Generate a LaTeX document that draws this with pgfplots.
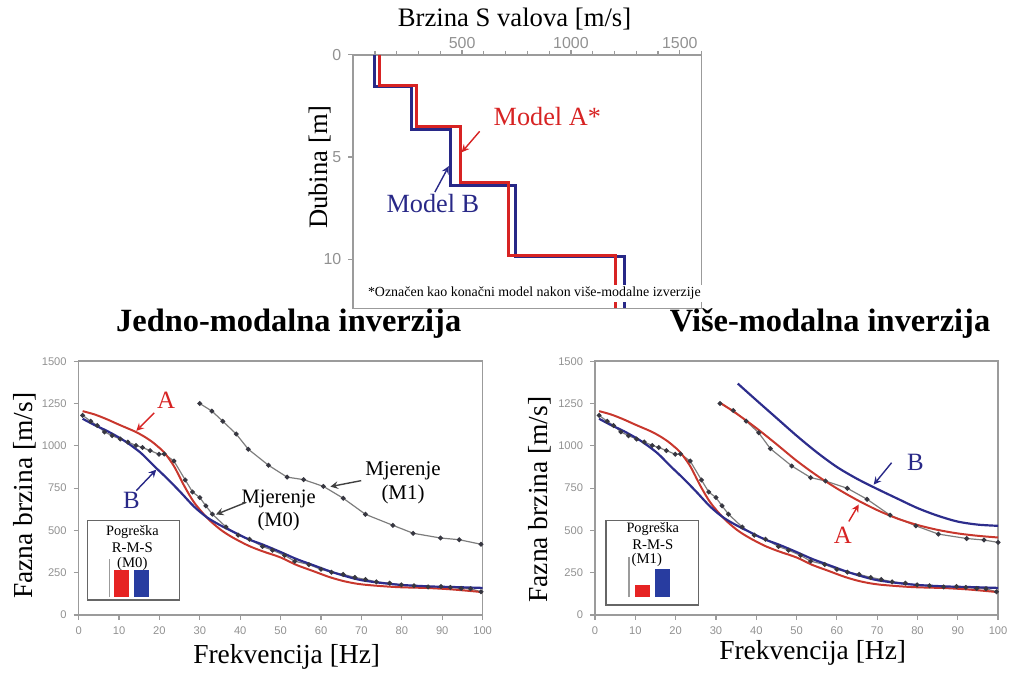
\documentclass[border=0pt]{standalone}
\usepackage{fontspec}
\setmainfont{Liberation Serif}
\newfontfamily\sansf{Liberation Sans}
\usepackage{pgfplots}
\usepackage{pgfplotstable}
\pgfplotsset{compat=1.18}

\definecolor{cred}{RGB}{200,55,45}
\definecolor{cblue}{RGB}{45,45,140}
\definecolor{tred}{RGB}{215,35,35}
\definecolor{tblue}{RGB}{40,40,135}
\definecolor{barred}{RGB}{230,35,35}
\definecolor{barblue}{RGB}{40,60,160}
\definecolor{axgrey}{RGB}{155,155,155}
\definecolor{lblgrey}{RGB}{145,145,145}
\definecolor{measline}{RGB}{125,125,125}
\definecolor{markc}{RGB}{55,55,65}

% measured dispersion, fundamental mode (M0)
\pgfplotstableread{
f v
1.0 1180
3.0 1145
4.6 1120
6.4 1082
8.3 1060
10.3 1040
12.2 1022
14.2 1002
15.8 990
17.7 972
19.9 950
21.2 952
23.6 910
26.4 798
28.2 727
30.0 694
31.5 645
33.1 596
36.5 520
39.5 472
42.3 448
45.5 405
48.0 383
51.0 352
53.5 318
57.0 298
60.0 270
62.6 253
65.5 240
68.4 222
71.0 210
73.7 196
77.0 188
79.9 178
83.0 173
86.5 166
89.7 168
92.0 163
94.7 157
97.0 155
99.6 137
}\mzero

% model A, M0
\pgfplotstableread{
f v
1 1205
4 1185
7 1157
10 1125
13.8 1086
16 1058
18 1027
19.5 998
21.2 960
23.6 880
26.1 765
28.6 665
31.9 572
35.1 505
38 460
42 410
45.6 376
50 340
53.9 296
58 260
62.1 224
66 198
70.4 180
78.6 165
86.8 159
93 150
100 135
}\afit

% model B, M0
\pgfplotstableread{
f v
1 1160
4 1122
7.2 1086
11.3 1030
15.4 958
18.7 880
22 805
25.3 724
28.6 640
31.9 575
35.1 530
38 495
42 448
45.6 416
50 372
53.9 331
58 295
62.1 259
66 230
70.4 204
78.6 180
86.8 169
93 165
100 160
}\bfit

% measured, first higher mode (M1), as read in each panel
\pgfplotstableread{
f v
30.0 1250
33.0 1205
35.7 1145
39.0 1070
42.0 980
47.0 885
51.6 815
55.7 800
60.6 760
65.5 690
71.0 595
77.8 530
82.8 483
89.6 455
94.2 445
99.6 418
}\monel

\pgfplotstableread{
f v
31.0 1250
34.3 1209
37.5 1146
40.6 1077
43.5 983
48.8 881
53.5 812
57.2 792
62.6 749
67.5 684
73.2 590
79.6 527
85.2 478
92.2 452
96.5 443
100 429
}\moner

% model A / B, M1
\pgfplotstableread{
f v
31 1255
35 1192
40 1105
45 1010
50 912
55 825
60 748
65 680
70 620
75 570
80 532
85 503
90 482
95 468
100 458
}\aone

\pgfplotstableread{
f v
35.4 1368
40 1270
45 1165
50 1060
55 962
60 875
65 805
70 745
75 688
80 632
85 587
90 552
95 534
100 527
}\bone

% Vs profiles
\pgfplotstableread{
x y
122 0
122 1.5
289 1.5
289 3.53
491 3.53
491 6.26
712 6.26
712 9.8
1204 9.8
1204 12.4
}\profa

\pgfplotstableread{
x y
96 0
96 1.57
267 1.57
267 3.64
447 3.64
447 6.39
747 6.39
747 9.88
1247 9.88
1247 12.4
}\profb

\begin{document}
\begin{tikzpicture}
\begin{scope}[x=0.5pt,y=-0.5pt]
  \path[use as bounding box] (0,0) rectangle (1014,677);
\end{scope}

\pgfplotsset{
  greyaxis/.style={
    scale only axis,
    tick align=outside,
    axis line style={draw=axgrey, line width=0.8pt},
    tick style={draw=axgrey, line width=0.6pt},
    major tick length=2.5pt,
    /pgf/number format/assume math mode=true,
    /pgf/number format/1000 sep={},
  },
  panel/.style={
    greyaxis,
    width=203pt, height=127.5pt,
    xmin=0, xmax=100, ymin=0, ymax=1500,
    xtick={0,10,...,100}, ytick={0,250,...,1500},
    xtick pos=left, ytick pos=left,
    tick label style={font=\sansf\fontsize{5.6}{6}\selectfont, text=lblgrey},
    label style={font=\fontsize{13.8}{16}\selectfont},
    title style={font=\bfseries\fontsize{16.3}{19}\selectfont, anchor=center},
    xlabel={Frekvencija [Hz]}, ylabel={Fazna brzina [m/s]},
  },
  meas/.style={color=measline, line width=0.6pt, mark=*, mark size=0.9pt,
    mark options={draw=markc, fill=markc}},
  fita/.style={color=cred, line width=1pt, smooth, no marks},
  fitb/.style={color=cblue, line width=1.1pt, smooth, no marks},
  inset/.style={scale only axis, width=21pt, xmin=0, xmax=42, ymin=0, ymax=1,
    axis x line=none, axis y line*=left, ytick=\empty,
    axis line style={draw=axgrey, line width=0.6pt}},
}

% ---- top: shear-wave velocity profiles
\begin{axis}[
  greyaxis,
  at={(177.5pt,-155pt)}, anchor=south west,
  width=175pt, height=127.5pt,
  xmin=0, xmax=1600, ymin=0, ymax=12.4, y dir=reverse,
  xtick={500,1000,1500}, minor xtick={100,200,...,1600},
  ytick={0,5,10},
  xtick pos=right, xticklabel pos=right, ytick pos=left,
  minor tick length=2pt,
  tick label style={font=\sansf\fontsize{8}{9}\selectfont, text=lblgrey},
  xticklabel style={yshift=-3pt},
  label style={font=\fontsize{13.4}{16}\selectfont},
  xlabel={Brzina S valova [m/s]}, ylabel={Dubina [m]},
  xlabel style={at={(axis description cs:0.463,1.14)}, anchor=center},
  ylabel style={at={(axis description cs:-0.094,0.557)}, anchor=center},
]
\addplot[color=tblue, line width=1.5pt] table[x=x,y=y] {\profb};
\addplot[color=tred, line width=1.5pt] table[x=x,y=y] {\profa};
\end{axis}

% ---- bottom left: single-mode inversion
\begin{axis}[
  panel,
  at={(39.5pt,-309pt)}, anchor=south west,
  title={Jedno-modalna inverzija},
  title style={at={(axis description cs:0.52,1.10)}},
  xlabel style={at={(axis description cs:0.515,-0.165)}, anchor=center},
  ylabel style={at={(axis description cs:-0.133,0.47)}, anchor=center},
]
\addplot[meas] table[x=f,y=v] {\mzero};
\addplot[meas] table[x=f,y=v] {\monel};
\addplot[fita] table[x=f,y=v] {\afit};
\addplot[fitb] table[x=f,y=v] {\bfit};
\end{axis}

% ---- bottom right: multi-mode inversion
\begin{axis}[
  panel,
  at={(299pt,-309pt)}, anchor=south west, width=202.5pt,
  title={Više-modalna inverzija},
  title style={at={(axis description cs:0.583,1.10)}},
  xlabel style={at={(axis description cs:0.54,-0.15)}, anchor=center},
  ylabel style={at={(axis description cs:-0.136,0.455)}, anchor=center},
]
\addplot[meas] table[x=f,y=v] {\mzero};
\addplot[meas] table[x=f,y=v] {\moner};
\addplot[fita] table[x=f,y=v] {\afit};
\addplot[fitb] table[x=f,y=v] {\bfit};
\addplot[fita] table[x=f,y=v] {\aone};
\addplot[fitb] table[x=f,y=v] {\bone};
\end{axis}

% ---- annotations
\begin{scope}[x=0.5pt,y=-0.5pt]
  \node[fill=white, inner sep=1pt, font=\fontsize{7}{8}\selectfont] at (537,295)
    {*Označen kao konačni model nakon više-modalne izverzije};
  \node[text=tred, font=\fontsize{13.2}{15}\selectfont] at (550,117) {Model A*};
  \node[text=tblue, font=\fontsize{13.2}{15}\selectfont] at (435,205) {Model B};
  \draw[tred, -stealth, line width=0.7pt] (482,132) -- (464,153);
  \draw[tblue, -stealth, line width=0.7pt] (437,193) -- (451,167);

  \node[text=tred, font=\fontsize{12.5}{14}\selectfont] at (167,402) {A};
  \draw[tred, -stealth, line width=0.7pt] (155,415) -- (137,433);
  \node[text=tblue, font=\fontsize{12.5}{14}\selectfont] at (132,503) {B};
  \draw[tblue, -stealth, line width=0.7pt] (137,493) -- (157,472);
  \node[align=center, font=\fontsize{10.3}{11.5}\selectfont] at (280,513) {Mjerenje\\(M0)};
  \draw[black!75, -stealth, line width=0.7pt] (247,505) -- (217,517);
  \node[align=center, font=\fontsize{10.5}{12}\selectfont] at (405,485) {Mjerenje\\(M1)};
  \draw[black!75, -stealth, line width=0.7pt] (363,483) -- (332,489);

  \node[text=tblue, font=\fontsize{12.5}{14}\selectfont] at (920,465) {B};
  \draw[tblue, -stealth, line width=0.7pt] (896,465) -- (878,487);
  \node[text=tred, font=\fontsize{12.5}{14}\selectfont] at (847,538) {A};
  \draw[tred, -stealth, line width=0.7pt] (853,524) -- (863,507);

  \draw[fill=white, draw=black!60, line width=0.6pt] (88,523) rectangle (180,603);
  \node[font=\fontsize{7.2}{8}\selectfont] at (133,535) {Pogreška};
  \node[font=\fontsize{7.4}{8}\selectfont] at (133,550) {R-M-S};
  \node[font=\fontsize{7.4}{8}\selectfont] at (133,567) {(M0)};
  \draw[fill=white, draw=black!60, line width=0.6pt] (609,523) rectangle (702,608);
  \node[font=\fontsize{7.2}{8}\selectfont] at (656,532) {Pogreška};
  \node[font=\fontsize{7.4}{8}\selectfont] at (656,547) {R-M-S};
  \node[font=\fontsize{7.4}{8}\selectfont] at (650,563) {(M1)};
\end{scope}

% ---- RMS error insets
\begin{axis}[inset, at={(55pt,-300pt)}, anchor=south west, height=19pt]
\addplot[ybar, bar width=15, bar shift=0pt, fill=barred, draw=none] coordinates {(12.5,0.71)};
\addplot[ybar, bar width=15, bar shift=0pt, fill=barblue, draw=none] coordinates {(32.5,0.71)};
\end{axis}
\begin{axis}[inset, at={(316pt,-300pt)}, anchor=south west, height=20pt]
\addplot[ybar, bar width=15, bar shift=0pt, fill=barred, draw=none] coordinates {(13.5,0.3)};
\addplot[ybar, bar width=15, bar shift=0pt, fill=barblue, draw=none] coordinates {(33.5,0.7)};
\end{axis}
\end{tikzpicture}
\end{document}
